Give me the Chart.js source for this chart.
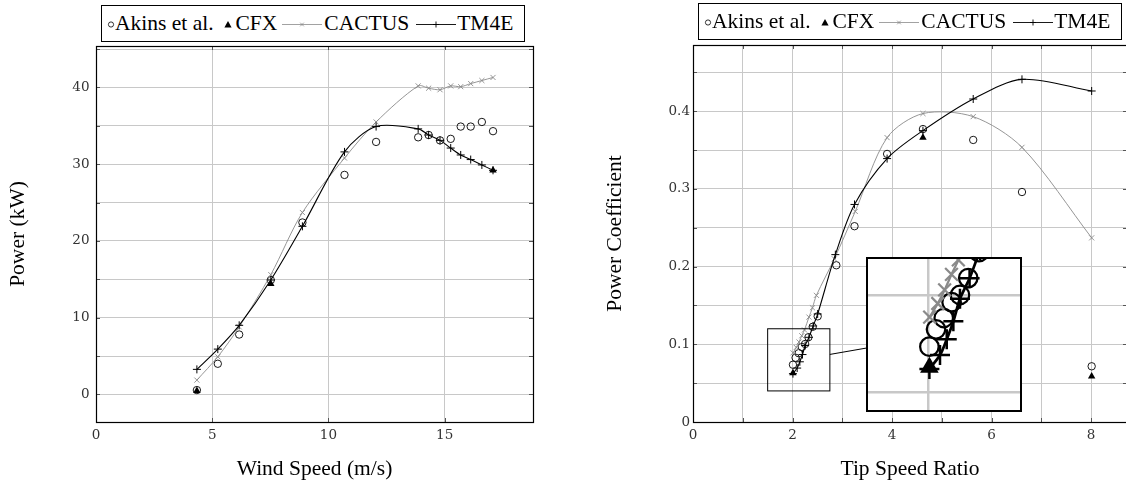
<!DOCTYPE html>
<html>
<head>
<meta charset="utf-8">
<title>Power and power coefficient</title>
<script src="https://cdn.jsdelivr.net/npm/chart.js@4.4.0/dist/chart.umd.min.js"></script>
<style>
  html, body { margin: 0; padding: 0; background: #fff; overflow: hidden; }
  body { width: 1126px; height: 487px; position: relative; font-family: "Liberation Serif", "Times New Roman", serif; }
  canvas { position: absolute; }
  .legend { position: absolute; display: flex; align-items: center; box-sizing: border-box; height: 37px;
            border: 1px solid #000; background: #fff; padding: 0 11px 0 5px; font-size: 21.5px; white-space: nowrap; color: #000; }
  .legend svg { display: block; flex: none; }
</style>
</head>
<body>
<canvas id="powerChart" width="560" height="487" style="left:0;top:0"></canvas>
<canvas id="cpChart" width="550" height="487" style="left:580px;top:0"></canvas>
<canvas id="zoomChart"></canvas>
<div class="legend" id="legendLeft" style="left:101px;top:5px"></div>
<div class="legend" id="legendRight" style="left:698px;top:3px"></div>
<script>
// power vs wind speed
const windSpeed   = [4.34, 5.24, 6.16, 7.52, 8.88, 10.69, 12.05, 13.86, 14.31, 14.8, 15.26, 15.69, 16.12, 16.6, 17.08];
const powerAkins  = [0.56, 3.99, 7.8, 14.9, 22.4, 28.6, 32.9, 33.5, 33.8, 33.1, 33.3, 34.9, 34.9, 35.5, 34.3];
const powerCactus = [1.86, 4.9, 8.8, 15.6, 23.7, 30.8, 35.5, 40.2, 39.9, 39.7, 40.2, 40.1, 40.5, 40.9, 41.3];
const powerTm4e   = [3.26, 5.9, 9.0, 14.9, 21.9, 31.6, 34.9, 34.6, 33.8, 33.1, 32.1, 31.2, 30.6, 29.9, 29.2];
const windCfx  = [4.34, 7.52, 17.08];
const powerCfx = [0.47, 14.4, 29.2];

// power coefficient vs tip speed ratio
const tsrAkins  = [8.01, 6.61, 5.63, 4.62, 3.90, 3.245, 2.88, 2.505, 2.405, 2.319, 2.253, 2.186, 2.123, 2.061, 2.008];
const cpAkins   = [0.0717, 0.296, 0.363, 0.377, 0.345, 0.252, 0.2017, 0.136, 0.1225, 0.1091, 0.1004, 0.0967, 0.0885, 0.0827, 0.0737];
const tsrCactus = [8.01, 6.61, 5.63, 4.62, 3.90, 3.26, 2.84, 2.48, 2.40, 2.33, 2.24, 2.185, 2.13, 2.075, 2.01];
const cpCactus  = [0.237, 0.3535, 0.393, 0.397, 0.366, 0.271, 0.21, 0.163, 0.147, 0.135, 0.1185, 0.111, 0.103, 0.096, 0.089];
const tsrTm4e   = [8.01, 6.61, 5.63, 4.62, 3.90, 3.245, 2.86, 2.505, 2.414, 2.33, 2.253, 2.2, 2.147, 2.093, 2.008];
const cpTm4e    = [0.426, 0.441, 0.4157, 0.375, 0.339, 0.28, 0.2154, 0.139, 0.1236, 0.109, 0.0984, 0.0868, 0.0775, 0.0694, 0.0622];
const tsrCfx = [8.01, 4.62, 2.008];
const cpCfx  = [0.0588, 0.366, 0.063];

// labelled ticks (grid lines sit at every step)
const windTicks  = [0, 5, 10, 15];
const powerTicks = [0, 10, 20, 30, 40];
const tsrTicks   = [0, 2, 4, 6, 8];
const cpTicks    = [0, 0.1, 0.2, 0.3, 0.4];

// zoomed window on the right plot
const spy = { xMin: 1.5, xMax: 2.75, yMin: 0.04, yMax: 0.12, atX: 5.04, atY: 0.1125, mag: 2.5 };

const GRID = '#c8c8c8';
const GREY = '#8a8a8a';
Chart.defaults.font.family = '"DejaVu Serif", serif';
Chart.defaults.color = '#333';

function pts(xs, ys) {
    return xs.map((x, i) => ({ x: x, y: ys[i] }));
}

function labelIf(list) {
    return v => {
        const hit = list.find(t => Math.abs(t - v) < 1e-6);
        return hit === undefined ? '' : String(hit);
    };
}

// k scales marks and lines (1 for the main plots, 2.5 for the magnified view)
function makeDatasets(akins, cfx, cactus, tm4e, k) {
    return [
        { label: 'TM4E', data: tm4e, showLine: true, borderColor: '#000', borderWidth: 1.1 * k, tension: 0.3,
          pointStyle: 'cross', pointRadius: 4 * k, pointBorderWidth: 1 * k, pointBorderColor: '#000' },
        { label: 'CACTUS', data: cactus, showLine: true, borderColor: GREY, borderWidth: 0.9 * k, tension: 0.3,
          pointStyle: 'crossRot', pointRadius: 3.6 * k, pointBorderWidth: 0.9 * k, pointBorderColor: GREY },
        { label: 'CFX', data: cfx, showLine: false, pointStyle: 'triangle', pointRadius: 4.3 * k,
          pointBorderWidth: 0, pointBackgroundColor: '#000', pointBorderColor: '#000' },
        { label: 'Akins et al.', data: akins, showLine: false, pointStyle: 'circle', pointRadius: 3.7 * k,
          pointBorderWidth: 0.9 * k, pointBorderColor: '#000', pointBackgroundColor: 'rgba(0,0,0,0)' }
    ];
}

// black box round the plot area plus inward tick marks on all four sides
const frameTicks = {
    id: 'frameTicks',
    afterDraw(chart) {
        const { ctx, chartArea: a, scales: { x, y } } = chart;
        const len = 4;
        ctx.save();
        ctx.strokeStyle = '#555';
        ctx.lineWidth = 1;
        ctx.beginPath();
        x.ticks.forEach(t => {
            const px = Math.round(x.getPixelForValue(t.value)) + 0.5;
            ctx.moveTo(px, a.bottom); ctx.lineTo(px, a.bottom - len);
            ctx.moveTo(px, a.top); ctx.lineTo(px, a.top + len);
        });
        y.ticks.forEach(t => {
            const py = Math.round(y.getPixelForValue(t.value)) + 0.5;
            ctx.moveTo(a.left, py); ctx.lineTo(a.left + len, py);
            ctx.moveTo(a.right, py); ctx.lineTo(a.right - len, py);
        });
        ctx.stroke();
        ctx.strokeStyle = '#000';
        ctx.lineWidth = 1.2;
        ctx.strokeRect(Math.round(a.left) + 0.5, Math.round(a.top) + 0.5,
                       Math.round(a.right - a.left), Math.round(a.bottom - a.top));
        ctx.restore();
    }
};

function spyRects(chart) {
    const { x, y } = chart.scales;
    const x0 = x.getPixelForValue(spy.xMin), x1 = x.getPixelForValue(spy.xMax);
    const y0 = y.getPixelForValue(spy.yMax), y1 = y.getPixelForValue(spy.yMin);
    const hw = (x1 - x0) / 2, hh = (y1 - y0) / 2;
    return {
        box: { cx: (x0 + x1) / 2, cy: (y0 + y1) / 2, hw: hw, hh: hh },
        lens: { cx: x.getPixelForValue(spy.atX), cy: y.getPixelForValue(spy.atY), hw: hw * spy.mag, hh: hh * spy.mag }
    };
}

// source rectangle and the line joining it to the magnified view
const spyPlugin = {
    id: 'spyPlugin',
    afterDraw(chart) {
        const { box, lens } = spyRects(chart);
        const ctx = chart.ctx;
        const dx = lens.cx - box.cx, dy = lens.cy - box.cy;
        const t1 = Math.min(box.hw / Math.abs(dx), box.hh / Math.abs(dy));
        const t2 = 1 - Math.min(lens.hw / Math.abs(dx), lens.hh / Math.abs(dy));
        ctx.save();
        ctx.strokeStyle = '#000';
        ctx.lineWidth = 1;
        ctx.strokeRect(box.cx - box.hw, box.cy - box.hh, box.hw * 2, box.hh * 2);
        ctx.beginPath();
        ctx.moveTo(box.cx + dx * t1, box.cy + dy * t1);
        ctx.lineTo(box.cx + dx * t2, box.cy + dy * t2);
        ctx.stroke();
        ctx.restore();
    }
};

function axisTitle(text, pad) {
    return { display: true, text: text, color: '#000', padding: pad,
             font: { family: '"Liberation Serif", serif', size: 21.5 } };
}

function mainOptions(o) {
    return {
        responsive: false,
        animation: false,
        devicePixelRatio: 1,
        layout: { padding: o.padding, autoPadding: false },
        plugins: { legend: { display: false }, tooltip: { enabled: false } },
        scales: {
            x: {
                type: 'linear', min: o.xMin, max: o.xMax,
                ticks: { stepSize: o.xStep, includeBounds: false, padding: 5.5, maxRotation: 0, autoSkip: false,
                         font: { size: 13.5 }, callback: labelIf(o.xTicks) },
                grid: { color: GRID, lineWidth: 1, drawTicks: false },
                border: { display: false },
                title: axisTitle(o.xTitle, { top: 0, bottom: 5 }),
                afterFit: s => { s.height = o.xHeight; }
            },
            y: {
                type: 'linear', min: o.yMin, max: o.yMax,
                ticks: { stepSize: o.yStep, includeBounds: false, padding: o.yPad, autoSkip: false,
                         font: { size: 13.5 }, callback: labelIf(o.yTicks) },
                grid: { color: GRID, lineWidth: 1, drawTicks: false },
                border: { display: false },
                title: axisTitle(o.yTitle, { top: o.yTitlePad, bottom: 0 }),
                afterFit: s => { s.width = o.yWidth; }
            }
        }
    };
}

const powerChart = new Chart(document.getElementById('powerChart'), {
    type: 'scatter',
    data: { datasets: makeDatasets(pts(windSpeed, powerAkins), pts(windCfx, powerCfx),
                                   pts(windSpeed, powerCactus), pts(windSpeed, powerTm4e), 1) },
    options: mainOptions({
        padding: { left: 0, top: 46, right: 27, bottom: 0 },
        xMin: 0, xMax: 18.8, xStep: 5, xTicks: windTicks, xTitle: 'Wind Speed (m/s)', xHeight: 65,
        yMin: -3.6, yMax: 45.4, yStep: 5, yTicks: powerTicks, yTitle: 'Power (kW)', yWidth: 96,
        yPad: 6.5, yTitlePad: 5
    }),
    plugins: [frameTicks]
});

const cpChart = new Chart(document.getElementById('cpChart'), {
    type: 'scatter',
    data: { datasets: makeDatasets(pts(tsrAkins, cpAkins), pts(tsrCfx, cpCfx),
                                   pts(tsrCactus, cpCactus), pts(tsrTm4e, cpTm4e), 1) },
    options: mainOptions({
        padding: { left: 0, top: 45, right: 3, bottom: 0 },
        xMin: 0, xMax: 8.72, xStep: 1, xTicks: tsrTicks, xTitle: 'Tip Speed Ratio', xHeight: 65,
        yMin: 0, yMax: 0.4852, yStep: 0.05, yTicks: cpTicks, yTitle: 'Power Coefficient', yWidth: 113,
        yPad: 3, yTitlePad: 22.6
    }),
    plugins: [frameTicks, spyPlugin]
});

// magnified view, placed where the right plot puts its lens
const lens = spyRects(cpChart).lens;
const zoomCanvas = document.getElementById('zoomChart');
const cpCanvas = document.getElementById('cpChart');
zoomCanvas.width = Math.round(lens.hw * 2);
zoomCanvas.height = Math.round(lens.hh * 2);
zoomCanvas.style.left = Math.round(cpCanvas.offsetLeft + lens.cx - lens.hw) + 'px';
zoomCanvas.style.top = Math.round(cpCanvas.offsetTop + lens.cy - lens.hh) + 'px';

const lensFrame = {
    id: 'lensFrame',
    beforeDraw(chart) {
        chart.ctx.save();
        chart.ctx.fillStyle = '#fff';
        chart.ctx.fillRect(0, 0, chart.width, chart.height);
        chart.ctx.restore();
    },
    afterDraw(chart) {
        const ctx = chart.ctx;
        ctx.save();
        ctx.strokeStyle = '#000';
        ctx.lineWidth = 2;
        ctx.strokeRect(1, 1, chart.width - 2, chart.height - 2);
        ctx.restore();
    }
};

const zoomChart = new Chart(zoomCanvas, {
    type: 'scatter',
    data: { datasets: makeDatasets(pts(tsrAkins, cpAkins), pts(tsrCfx, cpCfx),
                                   pts(tsrCactus, cpCactus), pts(tsrTm4e, cpTm4e), spy.mag) },
    options: {
        responsive: false,
        animation: false,
        devicePixelRatio: 1,
        layout: { padding: 0, autoPadding: false },
        plugins: { legend: { display: false }, tooltip: { enabled: false } },
        scales: {
            x: { type: 'linear', min: spy.xMin, max: spy.xMax,
                 ticks: { display: false, stepSize: 1, includeBounds: false },
                 grid: { color: GRID, lineWidth: 2.5, drawTicks: false }, border: { display: false },
                 afterFit: s => { s.height = 0; } },
            y: { type: 'linear', min: spy.yMin, max: spy.yMax,
                 ticks: { display: false, stepSize: 0.05, includeBounds: false },
                 grid: { color: GRID, lineWidth: 2.5, drawTicks: false }, border: { display: false },
                 afterFit: s => { s.width = 0; } }
        }
    },
    plugins: [lensFrame]
});

// legends
const legendItems = [
    { label: 'Akins et al.', mark: 'circle' },
    { label: 'CFX', mark: 'triangle' },
    { label: 'CACTUS', mark: 'xline' },
    { label: 'TM4E', mark: 'plusline' }
];

function markSvg(mark) {
    if (mark === 'circle') {
        return '<svg width="8" height="12" style="margin-right:0"><circle cx="4" cy="6.5" r="2.6" fill="none" stroke="#000" stroke-width="0.8"/></svg>';
    }
    if (mark === 'triangle') {
        return '<svg width="8" height="12" style="margin-left:10px;margin-right:4px"><polygon points="4,3 7.6,9.4 0.4,9.4" fill="#000"/></svg>';
    }
    if (mark === 'xline') {
        return '<svg width="40" height="12" style="margin-left:5px;margin-right:2px"><line x1="0" y1="6.5" x2="40" y2="6.5" stroke="' + GREY + '" stroke-width="0.8"/>' +
               '<path d="M18.2,4.7 L21.8,8.3 M18.2,8.3 L21.8,4.7" stroke="' + GREY + '" stroke-width="0.8"/></svg>';
    }
    return '<svg width="40" height="12" style="margin-left:6.5px;margin-right:1.5px"><line x1="0" y1="6.5" x2="40" y2="6.5" stroke="#000" stroke-width="0.9"/>' +
           '<path d="M20,3.5 L20,9.5 M17,6.5 L23,6.5" stroke="#000" stroke-width="0.9"/></svg>';
}

['legendLeft', 'legendRight'].forEach(id => {
    const box = document.getElementById(id);
    legendItems.forEach(item => {
        box.insertAdjacentHTML('beforeend', markSvg(item.mark));
        const span = document.createElement('span');
        span.textContent = item.label;
        box.appendChild(span);
    });
});
</script>
</body>
</html>
